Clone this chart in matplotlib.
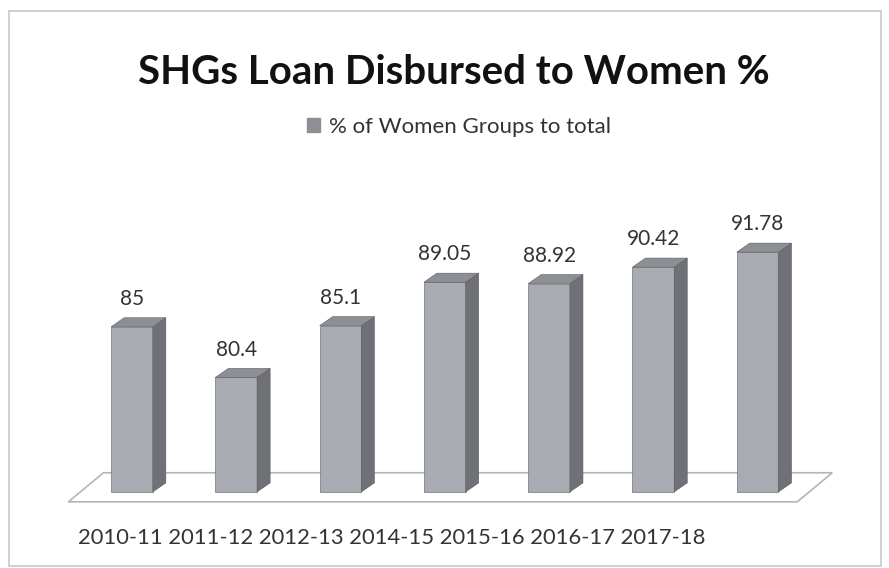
import matplotlib.pyplot as plt
from matplotlib.patches import Polygon, Rectangle, Patch

years = ["2010-11", "2011-12", "2012-13", "2014-15", "2015-16", "2016-17", "2017-18"]
values = [85, 80.4, 85.1, 89.05, 88.92, 90.42, 91.78]
series_name = "% of Women Groups to total"
title = "SHGs Loan Disbursed to Women %"

front_col = "#a9abb3"
side_col = "#6f7177"
top_col = "#8d8f95"
edge_col = "#5a5c60"

plt.rcParams['font.family'] = ['Lato', 'DejaVu Sans']

fig = plt.figure(figsize=(8.89, 5.68), dpi=100)
ax = fig.add_axes([60 / 889, 48 / 568, 780 / 889, 300 / 568])
ax.set_xlim(-0.69, 6.79)
ax.set_ylim(67.45, 94.7)
ax.axis("off")

base = 70
width = 0.40
# 3D depth of a bar, in data units (about 13 px right, 9 px up)
ddx, ddy = 0.125, 0.82

# floor
fdx, fdy = 0.336, 2.64
f0, f1 = -0.61, 6.38
fy = base - 0.9
ax.add_patch(Polygon([(f0, fy), (f1, fy), (f1 + fdx, fy + fdy), (f0 + fdx, fy + fdy)],
                     closed=True, facecolor="white", edgecolor="#b5b5b5", lw=1.2, zorder=1))

for i, v in enumerate(values):
    l, r = i - width / 2, i + width / 2
    ax.bar(i, v - base, width=width, bottom=base, color=front_col,
           edgecolor=edge_col, lw=0.4, zorder=3)
    ax.add_patch(Polygon([(r, base), (r + ddx, base + ddy), (r + ddx, v + ddy), (r, v)],
                         closed=True, facecolor=side_col, edgecolor=edge_col, lw=0.4, zorder=3))
    ax.add_patch(Polygon([(l, v), (r, v), (r + ddx, v + ddy), (l + ddx, v + ddy)],
                         closed=True, facecolor=top_col, edgecolor=edge_col, lw=0.4, zorder=3))
    ax.text(i, v + ddy + 0.8, f"{v:g}", ha="center", va="bottom", fontsize=15, color="#333333")

fig.text(0.511, 1 - 72 / 568, title, ha="center", va="center", fontsize=29,
         fontweight="bold", color="#111111")

fig.legend(handles=[Patch(facecolor="#8d8f95", edgecolor="#8d8f95", label=series_name)],
           loc="center", bbox_to_anchor=(459 / 889, 1 - 127 / 568), frameon=False,
           fontsize=16, handlelength=0.6, handleheight=0.6, handletextpad=0.4,
           labelcolor="#333333")

fig.text(78 / 889, 1 - 538 / 568, " ".join(years), ha="left", va="center",
         fontsize=15.8, color="#333333")

fig.add_artist(Rectangle((9 / 889, 1 - 566 / 568), 872 / 889, 555 / 568,
                         transform=fig.transFigure, fill=False, edgecolor="#c8c8c8", lw=1.2))

fig.savefig("out.png", dpi=100)
